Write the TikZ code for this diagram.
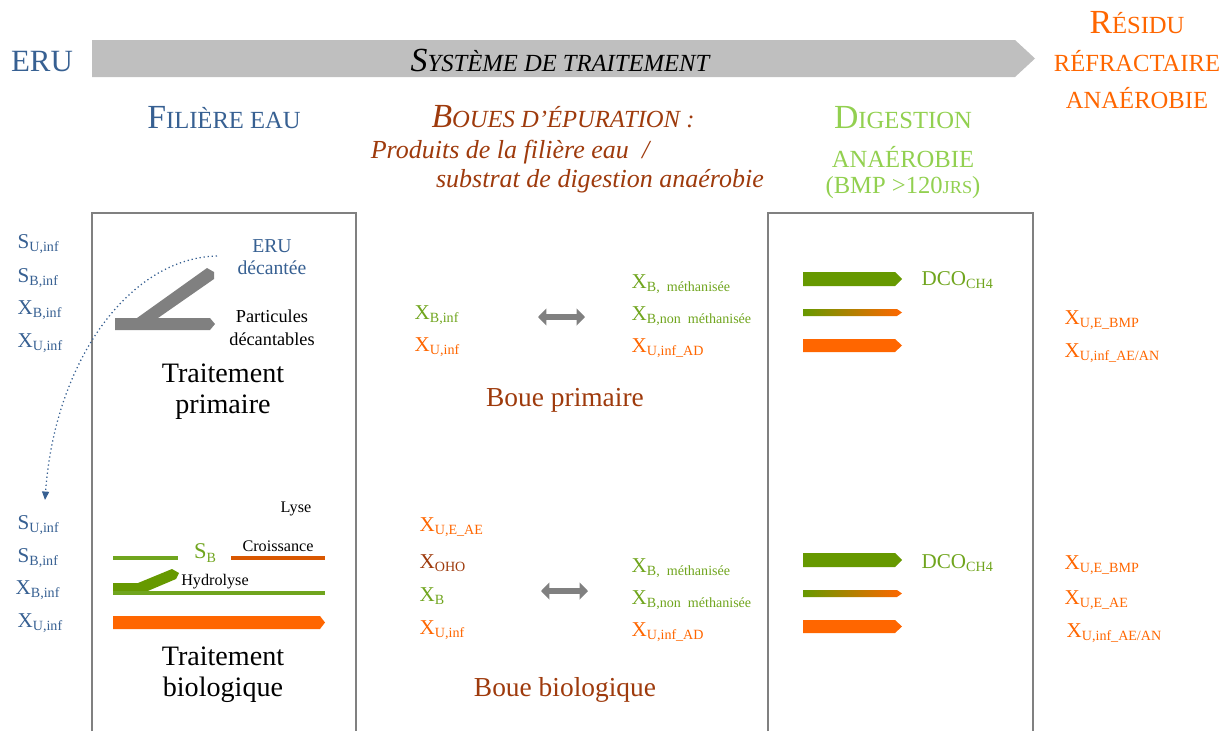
\documentclass[tikz,border=0pt]{standalone}
\usepackage{fontspec}
\setmainfont{Liberation Serif}
\usepackage{tikz}
\usetikzlibrary{arrows.meta,positioning}
\definecolor{eaublue}{RGB}{55, 96, 146}
\definecolor{bouebrown}{RGB}{158, 58, 12}
\definecolor{residorange}{RGB}{255, 102, 0}
\definecolor{digestgreen}{RGB}{146, 208, 80}
\definecolor{vargreen}{RGB}{112, 165, 30}
\definecolor{arrowgreen}{RGB}{102, 153, 0}
\definecolor{bargray}{RGB}{191, 191, 191}
\definecolor{shapegray}{RGB}{128, 128, 128}

% small caps made by hand (big first letter, smaller capitals after)
\newcommand{\capsc}[2]{{\fontsize{24}{28}\selectfont #1}{\fontsize{17.5}{21}\selectfont #2}}
% variable with lowered index
\newcommand{\vsub}[2]{#1\raisebox{-0.35ex}{\fontsize{10}{12}\selectfont #2}}

\begin{document}
\begin{tikzpicture}[x=0.025cm, y=-0.025cm, every node/.style={inner sep=1pt},
    varl/.style={anchor=west, font=\fontsize{15}{18}\selectfont},
    bigtxt/.style={font=\fontsize{20}{24}\selectfont, align=center},
    boxline/.style={draw=shapegray, line width=2.1pt},
    dbl/.style={draw=shapegray, line width=4.5pt, {Triangle[length=6pt,width=12pt]}-{Triangle[length=6pt,width=12pt]}}]
    \useasboundingbox (0,0) rectangle (1230,731);

    % Bandeau du systeme
    \fill[bargray] (92,40) -- (1015,40) -- (1035,58.5) -- (1015,77) -- (92,77) -- cycle;
    \node[color=eaublue, font=\fontsize{22}{26}\selectfont] (eruTop) at (42,62) {ERU};
    \node[font=\itshape] (sys) at (560,60) {\capsc{S}{YSTÈME DE TRAITEMENT}};
    \node[color=residorange] (res1) at (1137,23) {\capsc{R}{ÉSIDU}};
    \node[color=residorange, font=\fontsize{17.5}{21}\selectfont] (res2) at (1137,61) {RÉFRACTAIRE};
    \node[color=residorange, font=\fontsize{17.5}{21}\selectfont] (res3) at (1137,98) {ANAÉROBIE};

    % Titres des colonnes
    \node[color=eaublue] (filiere) at (224,118) {\capsc{F}{ILIÈRE EAU}};
    \node[color=bouebrown, font=\itshape] (boues) at (563,117) {\capsc{B}{OUES D’ÉPURATION :}};
    \node[color=bouebrown, font=\itshape\fontsize{18.5}{22}\selectfont] (prod1) at (510,152) {Produits de la filière eau~~/};
    \node[color=bouebrown, font=\itshape\fontsize{18.5}{22}\selectfont] (prod2) at (600,181) {substrat de digestion anaérobie};
    \node[color=digestgreen] (dig1) at (903,118) {\capsc{D}{IGESTION}};
    \node[color=digestgreen, font=\fontsize{17.5}{21}\selectfont] (dig2) at (903,157) {ANAÉROBIE};
    \node[color=digestgreen, font=\fontsize{17.5}{21}\selectfont] (dig3) at (903,188) {(BMP >120{\fontsize{13}{15}\selectfont JRS})};

    % Cadres
    \draw[boxline] (92,731) -- (92,213) -- (356,213) -- (356,731);
    \draw[boxline] (768,731) -- (768,213) -- (1033,213) -- (1033,731);

    % ERU entrant (haut)
    \node[varl, color=eaublue] (su1) at (16,244) {\vsub{S}{U,inf}};
    \node[varl, color=eaublue] (sb1) at (16,278) {\vsub{S}{B,inf}};
    \node[varl, color=eaublue] (xb1) at (16,310) {\vsub{X}{B,inf}};
    \node[varl, color=eaublue] (xu1) at (16,343) {\vsub{X}{U,inf}};

    % Traitement primaire
    \fill[shapegray] (115,318) -- (137,318) -- (207,268) -- (214,272) -- (214,279) -- (158,318)
        -- (210,318) -- (215,324) -- (210,330) -- (115,330) -- cycle;
    \node[color=eaublue, font=\fontsize{14}{16}\selectfont] (eruDec) at (272,246) {ERU};
    \node[color=eaublue, font=\fontsize{14}{16}\selectfont] (decant) at (272,268) {décantée};
    \node[font=\fontsize{13}{15}\selectfont] (part1) at (272,316) {Particules};
    \node[font=\fontsize{13}{15}\selectfont] (part2) at (272,339) {décantables};
    \node[bigtxt] (trait1) at (223,373) {Traitement};
    \node[bigtxt] (trait2) at (223,407) {primaire};

    % ERU decantee vers traitement biologique
    \coordinate (dotEnd) at (45,500);
    \draw[eaublue, dotted, line width=0.9pt, -{Triangle[length=6pt,width=5pt]}]
        (217,256) .. controls (130,258) and (55,360) .. (dotEnd);

    % ERU entrant (bas)
    \node[varl, color=eaublue] (su2) at (16,525) {\vsub{S}{U,inf}};
    \node[varl, color=eaublue] (sb2) at (16,558) {\vsub{S}{B,inf}};
    \node[varl, color=eaublue] (xb2) at (14,590) {\vsub{X}{B,inf}};
    \node[varl, color=eaublue] (xu2) at (16,623) {\vsub{X}{U,inf}};

    % Traitement biologique
    \node[font=\fontsize{11.5}{14}\selectfont] (lyse) at (296,509) {Lyse};
    \node[font=\fontsize{11.5}{14}\selectfont] (crois) at (278,546) {Croissance};
    \draw[vargreen, line width=2.2pt] (113,558) -- (178,558);
    \node[color=vargreen, font=\fontsize{16}{19}\selectfont] (sb) at (205,553) {\vsub{S}{B}};
    \draw[residorange!85!black, line width=2.2pt] (231,558) -- (325,558);
    \fill[arrowgreen] (113,583) -- (138,583) -- (172,569) -- (179,573) -- (176,579) -- (143,593) -- (113,593) -- cycle;
    \draw[vargreen, line width=2.2pt] (113,593) -- (325,593);
    \node[font=\fontsize{11.5}{14}\selectfont] (hydro) at (215,582) {Hydrolyse};
    \fill[residorange] (113,616) -- (320,616) -- (325,622.5) -- (320,629) -- (113,629) -- cycle;
    \node[bigtxt] (trait3) at (223,656) {Traitement};
    \node[bigtxt] (trait4) at (223,690) {biologique};

    % Boue primaire
    \node[varl, color=vargreen] (bpXb) at (413,315) {\vsub{X}{B,inf}};
    \node[varl, color=residorange] (bpXu) at (413,347) {\vsub{X}{U,inf}};
    \coordinate (dpA) at (538,317);
    \coordinate (dpB) at (585,317);
    \draw[dbl] (dpA) -- (dpB);
    \node[varl, color=vargreen] (bpM) at (630,284) {\vsub{X}{B,~~méthanisée}};
    \node[varl, color=vargreen] (bpN) at (630,316) {\vsub{X}{B,non~~méthanisée}};
    \node[varl, color=residorange] (bpAD) at (630,348) {\vsub{X}{U,inf\_AD}};
    \node[color=bouebrown, font=\fontsize{19.5}{23}\selectfont] (bprim) at (565,400) {Boue primaire};

    % Boue biologique
    \node[varl, color=residorange] (bbE) at (418,527) {\vsub{X}{U,E\_AE}};
    \node[varl, color=bouebrown] (bbO) at (418,563) {\vsub{X}{OHO}};
    \node[varl, color=vargreen] (bbB) at (418,596) {\vsub{X}{B}};
    \node[varl, color=residorange] (bbU) at (418,630) {\vsub{X}{U,inf}};
    \coordinate (dbA) at (541,591);
    \coordinate (dbB) at (588,591);
    \draw[dbl] (dbA) -- (dbB);
    \node[varl, color=vargreen] (bbM) at (630,568) {\vsub{X}{B,~~méthanisée}};
    \node[varl, color=vargreen] (bbN) at (630,600) {\vsub{X}{B,non~~méthanisée}};
    \node[varl, color=residorange] (bbAD) at (630,632) {\vsub{X}{U,inf\_AD}};
    \node[color=bouebrown, font=\fontsize{19.5}{23}\selectfont] (bbio) at (565,690) {Boue biologique};

    % Digestion anaerobie (haut)
    \fill[arrowgreen] (803,272) -- (895,272) -- (902,279) -- (895,286) -- (803,286) -- cycle;
    \shade[left color=arrowgreen, right color=residorange] (803,309) -- (897,309) -- (902,312.5) -- (897,316) -- (803,316) -- cycle;
    \fill[residorange] (803,339) -- (895,339) -- (902,345.5) -- (895,352) -- (803,352) -- cycle;
    \node[varl, color=vargreen] (dco1) at (920,280) {\vsub{DCO}{CH4}};
    \node[varl, color=residorange] (rBmp1) at (1063,320) {\vsub{X}{U,E\_BMP}};
    \node[varl, color=residorange] (rAn1) at (1063,353) {\vsub{X}{U,inf\_AE/AN}};

    % Digestion anaerobie (bas)
    \fill[arrowgreen] (803,553) -- (895,553) -- (902,560) -- (895,567) -- (803,567) -- cycle;
    \shade[left color=arrowgreen, right color=residorange] (803,590) -- (897,590) -- (902,593.5) -- (897,597) -- (803,597) -- cycle;
    \fill[residorange] (803,620) -- (895,620) -- (902,626.5) -- (895,633) -- (803,633) -- cycle;
    \node[varl, color=vargreen] (dco2) at (920,563) {\vsub{DCO}{CH4}};
    \node[varl, color=residorange] (rBmp2) at (1063,565) {\vsub{X}{U,E\_BMP}};
    \node[varl, color=residorange] (rAe2) at (1063,600) {\vsub{X}{U,E\_AE}};
    \node[varl, color=residorange] (rAn2) at (1065,633) {\vsub{X}{U,inf\_AE/AN}};
\end{tikzpicture}
\end{document}
